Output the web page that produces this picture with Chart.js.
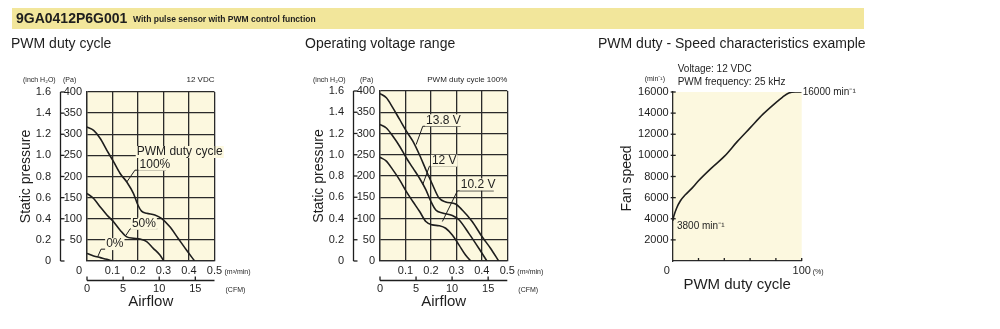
<!DOCTYPE html>
<html><head><meta charset="utf-8">
<script src="https://cdn.jsdelivr.net/npm/chart.js@4.4.1/dist/chart.umd.min.js"></script>
<style>
html,body{margin:0;padding:0;background:#fff;width:1000px;height:329px;overflow:hidden}
canvas{position:absolute;top:0}
</style></head><body>
<canvas id="bg" width="1000" height="329" style="left:0"></canvas>
<canvas id="c1" width="293" height="329" style="left:0"></canvas>
<canvas id="c2" width="297" height="329" style="left:293px"></canvas>
<canvas id="c3" width="410" height="329" style="left:590px"></canvas>
<script>
// ---------- DATA ----------
// Panel 1: PWM duty cycle (airflow m3/min vs static pressure Pa)
const duty100X = [0, 0.026, 0.052, 0.078, 0.104, 0.13, 0.156, 0.182, 0.2, 0.214, 0.234, 0.266, 0.292, 0.325, 0.357, 0.39, 0.422];
const duty100Y = [317, 309, 290, 262, 235, 207, 187, 160, 132, 118, 113, 109, 101, 81, 54, 26, 0];
const duty50X = [0, 0.026, 0.052, 0.078, 0.104, 0.13, 0.156, 0.182, 0.208, 0.234, 0.26, 0.286, 0.301];
const duty50Y = [160, 148, 128, 109, 93, 73, 57, 54, 52, 46, 30, 14, 0];
const duty0X = [0, 0.026, 0.052, 0.078, 0.1];
const duty0Y = [18, 12, 8, 4, 0];
// Panel 2: Operating voltage range
const v138X = [0, 0.025, 0.05, 0.077, 0.103, 0.129, 0.155, 0.18, 0.206, 0.232, 0.258, 0.297, 0.323, 0.362, 0.401, 0.434, 0.466];
const v138Y = [394, 384, 361, 333, 306, 282, 250, 215, 180, 148, 139, 134, 120, 93, 57, 30, 0];
const v12X = [0, 0.025, 0.05, 0.077, 0.103, 0.129, 0.155, 0.18, 0.2, 0.219, 0.245, 0.284, 0.31, 0.349, 0.388, 0.42];
const v12Y = [321, 313, 294, 270, 243, 219, 195, 168, 140, 120, 113, 107, 97, 65, 30, 0];
const v102X = [0, 0.025, 0.05, 0.077, 0.103, 0.129, 0.155, 0.18, 0.206, 0.232, 0.258, 0.284, 0.31, 0.336, 0.356];
const v102Y = [244, 235, 215, 191, 164, 140, 117, 93, 85, 83, 77, 61, 38, 14, 0];
// Panel 3: PWM duty - speed
const dutyPct = [0, 1, 3, 6, 10, 15, 20, 30, 40, 50, 60, 70, 80, 85, 90, 95, 100];
const speedRpm = [3800, 4300, 5000, 5700, 6300, 6900, 7600, 8800, 9900, 11300, 12600, 13900, 15000, 15500, 15900, 16000, 16000];
// Tick labels
const paTicks = [0, 50, 100, 150, 200, 250, 300, 350, 400];
const inchTicks = ['0', '0.2', '0.4', '0.6', '0.8', '1.0', '1.2', '1.4', '1.6'];
const flowTicks = [0.1, 0.2, 0.3, 0.4, 0.5];
const cfmTicks = [0, 5, 10, 15];
const rpmTicks = [2000, 4000, 6000, 8000, 10000, 12000, 14000, 16000];
const pctTicks = [20, 40, 60, 80, 100];

// ---------- STYLE ----------
const INK = '#1e1e1e';
const FILL = '#fcf8df';
const NARROW = '"Liberation Sans Narrow","Liberation Sans",Arial,sans-serif';
const SANS = '"Liberation Sans",Arial,sans-serif';
const CFM_PER_M3 = 35.3147;

function pts(xs, ys) { return xs.map((x, i) => ({x: x, y: ys[i]})); }
function txt(ctx, s, x, y, font, align, base) {
  ctx.save(); ctx.font = font; ctx.fillStyle = INK;
  ctx.textAlign = align || 'left'; ctx.textBaseline = base || 'middle';
  ctx.fillText(s, x, y); ctx.restore();
}
function maskTxt(ctx, s, x, y, font) {
  ctx.save(); ctx.font = font;
  const w = ctx.measureText(s).width;
  ctx.fillStyle = FILL; ctx.fillRect(x - 1, y - 6, w + 2, 12);
  ctx.restore();
  txt(ctx, s, x, y, font, 'left', 'middle');
}
function poly(ctx, p, lw) {
  ctx.save(); ctx.strokeStyle = INK; ctx.lineWidth = lw || 1; ctx.beginPath();
  p.forEach((q, i) => i ? ctx.lineTo(q[0], q[1]) : ctx.moveTo(q[0], q[1]));
  ctx.stroke(); ctx.restore();
}
function ds(data) {
  return {data: data, borderColor: INK, borderWidth: 1.6, pointRadius: 0, fill: false,
          cubicInterpolationMode: 'monotone', tension: 0.4};
}
const fillPlugin = {
  id: 'fillbg',
  beforeDraw(chart) {
    const a = chart.chartArea, c = chart.ctx;
    c.save(); c.fillStyle = FILL; c.fillRect(a.left, a.top, a.right - a.left, a.bottom - a.top); c.restore();
  }
};
function pqOptions(pad) {
  const g = {color: '#2a2a2a', lineWidth: 1.3, drawTicks: false};
  return {
    responsive: false, animation: false, devicePixelRatio: 1,
    layout: {padding: pad},
    plugins: {legend: {display: false}, tooltip: {enabled: false}},
    scales: {
      x: {type: 'linear', min: 0, max: 0.5, ticks: {display: false, stepSize: 0.1}, grid: g,
          border: {display: true, color: '#2a2a2a', width: 1.3}},
      y: {type: 'linear', min: 0, max: 400, ticks: {display: false, stepSize: 50}, grid: g,
          border: {display: true, color: '#2a2a2a', width: 1.3}}
    }
  };
}
// Pressure/airflow axes decoration
function drawPQAxes(chart, cfg) {
  const c = chart.ctx, a = chart.chartArea, xs = chart.scales.x, ys = chart.scales.y;
  const ax = a.left - 26.5;
  poly(c, [[ax, ys.getPixelForValue(400)], [ax, ys.getPixelForValue(0)]], 1.3);
  paTicks.forEach((v, i) => {
    const y = ys.getPixelForValue(v);
    poly(c, [[ax, y], [ax + 4, y]], 1.3);
    txt(c, inchTicks[i], a.left - 36, y, '11px ' + NARROW, 'right');
    if (v !== 0 || cfg.paZero) txt(c, String(v), a.left - 5, y, '11px ' + NARROW, 'right');
  });
  txt(c, '(inch H\u2082O)', a.left + cfg.inchHdr, 80, '7px ' + SANS, 'left');
  txt(c, '(Pa)', a.left + cfg.paHdr, 80, '7px ' + SANS, 'left');
  txt(c, cfg.corner, a.right, 80, '8px ' + SANS, 'right');
  // m3/min labels
  flowTicks.forEach(v => txt(c, String(v), xs.getPixelForValue(v), 271, '11px ' + NARROW, 'center'));
  if (cfg.flowZero) txt(c, '0', a.left - 8, 271, '11px ' + NARROW, 'center');
  txt(c, '(m\u00B3/min)', a.right + 10, 272, '7px ' + SANS, 'left');
  // CFM axis
  const cy = 280.5;
  poly(c, [[a.left, cy], [a.right, cy]], 1.3);
  cfmTicks.forEach(v => {
    const x = xs.getPixelForValue(v / CFM_PER_M3);
    poly(c, [[x, cy], [x, cy - 4]], 1.3);
    txt(c, String(v), x, 289, '11px ' + NARROW, 'center');
  });
  txt(c, '(CFM)', a.right + 11, 290, '7px ' + SANS, 'left');
  txt(c, 'Airflow', (a.left + a.right) / 2, 302, '15px ' + SANS, 'center');
  c.save(); c.translate(a.left - 61, (a.top + a.bottom) / 2); c.rotate(-Math.PI / 2);
  txt(c, 'Static pressure', 0, 0, '14px ' + SANS, 'center'); c.restore();
}
function drawLabels(chart, labels) {
  const c = chart.ctx, xs = chart.scales.x, ys = chart.scales.y;
  const P = q => [xs.getPixelForValue(q[0]), ys.getPixelForValue(q[1])];
  labels.forEach(L => {
    if (L.line) poly(c, L.line.map(P), 1);
    if (L.text) { const p = P(L.at); maskTxt(c, L.text, p[0], p[1], '12px ' + SANS); }
  });
}

// ---------- BACKGROUND TEXT ----------
(function () {
  const c = document.getElementById('bg').getContext('2d');
  c.fillStyle = '#f2e69b'; c.fillRect(12, 8, 852, 21);
  txt(c, '9GA0412P6G001', 16, 19, 'bold 14px ' + SANS, 'left');
  txt(c, 'With pulse sensor with PWM control function', 133, 19.5, 'bold 8.5px ' + SANS, 'left');
  txt(c, 'PWM duty cycle', 11, 48, '14px ' + SANS, 'left', 'alphabetic');
  txt(c, 'Operating voltage range', 305, 48, '14px ' + SANS, 'left', 'alphabetic');
  txt(c, 'PWM duty - Speed characteristics example', 598, 48, '14px ' + SANS, 'left', 'alphabetic');
})();

// ---------- CHART 1 ----------
new Chart(document.getElementById('c1'), {
  type: 'line',
  data: {datasets: [ds(pts(duty100X, duty100Y)), ds(pts(duty50X, duty50Y)), ds(pts(duty0X, duty0Y))]},
  options: pqOptions({left: 87, right: 78.5, top: 92, bottom: 68}),
  plugins: [fillPlugin, {
    id: 'deco1',
    afterDraw(chart) {
      drawPQAxes(chart, {paZero: false, flowZero: true, inchHdr: -64, paHdr: -24, corner: '12 VDC'});
      drawLabels(chart, [
        {line: [[0.156, 187], [0.188, 215], [0.31, 215]]},
        {text: 'PWM duty cycle', at: [0.195, 258]},
        {text: '100%', at: [0.206, 228]},
        {line: [[0.153, 61], [0.169, 76], [0.275, 76]]},
        {text: '50%', at: [0.176, 88]},
        {line: [[0.042, 10], [0.055, 28], [0.143, 28]]},
        {text: '0%', at: [0.075, 40]}
      ]);
    }
  }]
});

// ---------- CHART 2 ----------
new Chart(document.getElementById('c2'), {
  type: 'line',
  data: {datasets: [ds(pts(v138X, v138Y)), ds(pts(v12X, v12Y)), ds(pts(v102X, v102Y))]},
  options: pqOptions({left: 87, right: 82.7, top: 91, bottom: 68}),
  plugins: [fillPlugin, {
    id: 'deco2',
    afterDraw(chart) {
      drawPQAxes(chart, {paZero: true, flowZero: false, inchHdr: -67, paHdr: -20, corner: 'PWM duty cycle 100%'});
      drawLabels(chart, [
        {line: [[0.142, 274], [0.168, 317], [0.317, 317]]},
        {text: '13.8 V', at: [0.181, 331]},
        {line: [[0.168, 180], [0.194, 223], [0.304, 223]]},
        {text: '12 V', at: [0.204, 236]},
        {line: [[0.245, 93], [0.304, 165], [0.447, 165]]},
        {text: '10.2 V', at: [0.317, 180]}
      ]);
    }
  }]
});

// ---------- CHART 3 ----------
new Chart(document.getElementById('c3'), {
  type: 'line',
  data: {datasets: [ds(pts(dutyPct, speedRpm))]},
  options: {
    responsive: false, animation: false, devicePixelRatio: 1,
    layout: {padding: {left: 82.7, right: 198.3, top: 92, bottom: 68}},
    plugins: {legend: {display: false}, tooltip: {enabled: false}},
    scales: {
      x: {type: 'linear', min: 0, max: 100, ticks: {display: false}, grid: {display: false, drawTicks: false},
          border: {display: true, color: '#2a2a2a', width: 1.3}},
      y: {type: 'linear', min: 0, max: 16000, ticks: {display: false}, grid: {display: false, drawTicks: false},
          border: {display: true, color: '#2a2a2a', width: 1.3}}
    }
  },
  plugins: [fillPlugin, {
    id: 'deco3',
    afterDraw(chart) {
      const c = chart.ctx, a = chart.chartArea, xs = chart.scales.x, ys = chart.scales.y;
      rpmTicks.forEach(v => {
        const y = ys.getPixelForValue(v);
        poly(c, [[a.left - 2, y], [a.left + 3, y]], 1.3);
        txt(c, String(v), a.left - 4, y, '11px ' + NARROW, 'right');
      });
      pctTicks.forEach(v => {
        const x = xs.getPixelForValue(v);
        poly(c, [[x, a.bottom], [x, a.bottom - 3]], 1.3);
      });
      txt(c, '0', a.left - 6, 271, '11px ' + NARROW, 'center');
      txt(c, '100', xs.getPixelForValue(100), 271, '11px ' + NARROW, 'center');
      txt(c, '(%)', xs.getPixelForValue(100) + 11, 272, '7px ' + SANS, 'left');
      txt(c, '(min\u207B\u00B9)', a.left - 28, 79, '7px ' + SANS, 'left');
      txt(c, 'Voltage: 12 VDC', a.left + 5, 69, '10px ' + SANS, 'left');
      txt(c, 'PWM frequency: 25 kHz', a.left + 5, 82, '10px ' + SANS, 'left');
      const e = [xs.getPixelForValue(100) + 1, ys.getPixelForValue(16000)];
      txt(c, '16000 min\u207B\u00B9', e[0], e[1], '10px ' + NARROW, 'left');
      const s = [xs.getPixelForValue(1), ys.getPixelForValue(3300)];
      txt(c, '3800 min\u207B\u00B9', s[0] + 3, s[1], '10px ' + NARROW, 'left');
      txt(c, 'PWM duty cycle', (a.left + a.right) / 2, 285, '15px ' + SANS, 'center');
      c.save(); c.translate(a.left - 46, (a.top + a.bottom) / 2 + 2); c.rotate(-Math.PI / 2);
      txt(c, 'Fan speed', 0, 0, '14px ' + SANS, 'center'); c.restore();
    }
  }]
});
</script>
</body></html>
